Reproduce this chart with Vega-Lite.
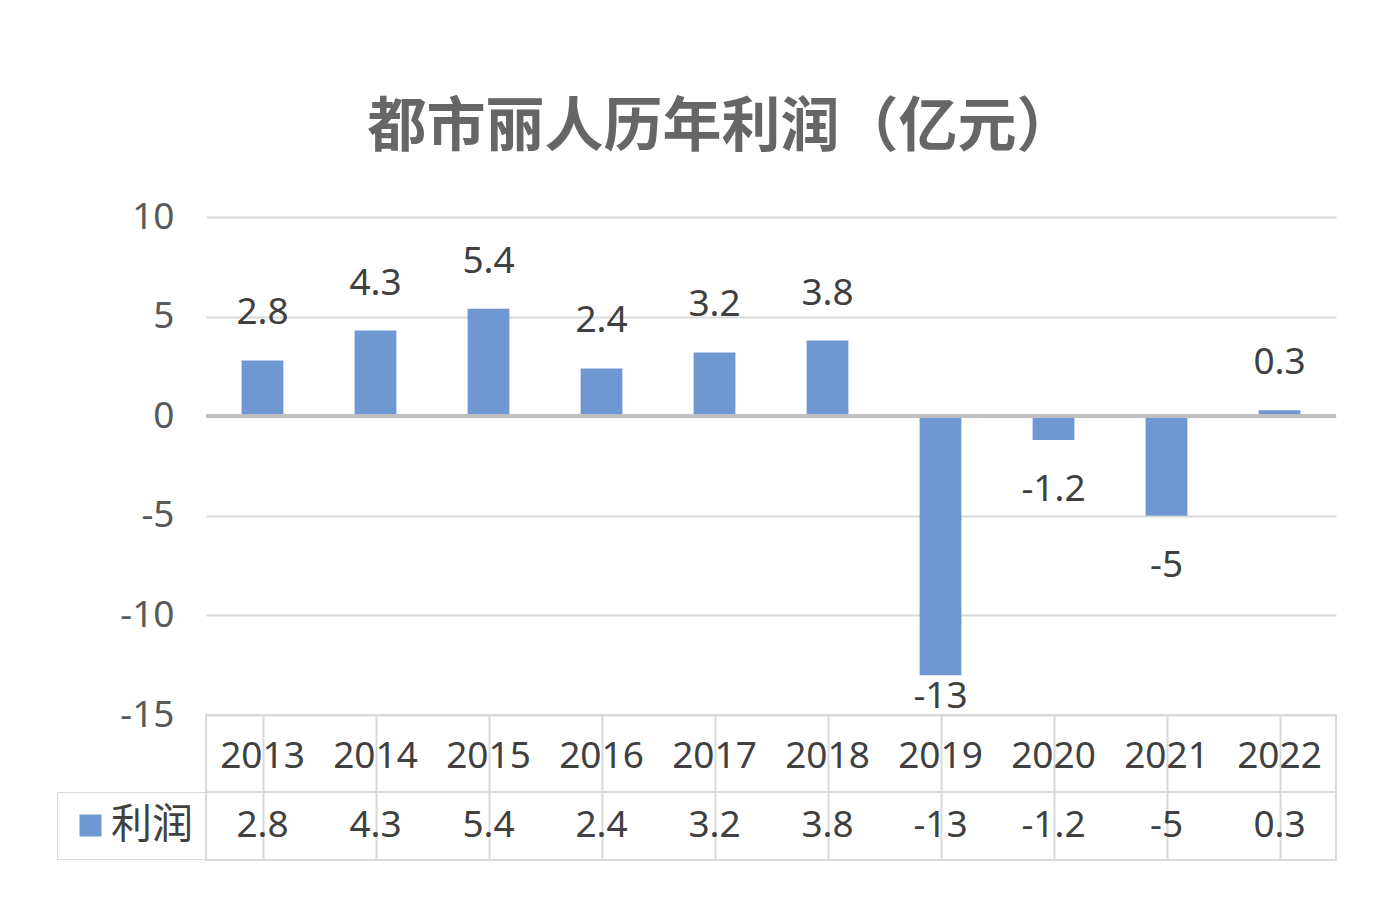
{
  "$schema": "https://vega.github.io/schema/vega-lite/v6.json",
  "background": "white",
  "padding": {"left": 55, "right": 63, "top": 99, "bottom": 48},
  "config": {
    "locale": {"number": {"decimal": ".", "thousands": ",", "grouping": [3], "currency": ["", ""], "minus": "-"}},
    "font": "Noto Sans",
    "concat": {"spacing": 0},
    "view": {"stroke": null}
  },
  "title": {
    "text": "都市丽人历年利润（亿元）",
    "font": "Noto Sans CJK SC",
    "fontSize": 59,
    "fontWeight": "bold",
    "color": "#666666",
    "anchor": "middle",
    "dx": 25,
    "offset": 40
  },
  "resolve": {"legend": {"color": "independent"}, "scale": {"color": "independent"}},
  "datasets": {
    "profit": [
      {"year": "2013", "value": 2.8},
      {"year": "2014", "value": 4.3},
      {"year": "2015", "value": 5.4},
      {"year": "2016", "value": 2.4},
      {"year": "2017", "value": 3.2},
      {"year": "2018", "value": 3.8},
      {"year": "2019", "value": -13},
      {"year": "2020", "value": -1.2},
      {"year": "2021", "value": -5},
      {"year": "2022", "value": 0.3}
    ]
  },
  "bounds": "flush",
  "vconcat": [
    {
      "width": 1130,
      "height": 498,
      "data": {"name": "profit"},
      "encoding": {
        "x": {"field": "year", "type": "nominal", "sort": null, "scale": {"paddingInner": 0, "paddingOuter": 0}, "axis": null}
      },
      "layer": [
        {
          "mark": {"type": "bar", "width": {"band": 0.37}, "color": "#6f98d3"},
          "encoding": {
            "y": {
              "field": "value", "type": "quantitative",
              "scale": {"domain": [-15, 10], "nice": false, "zero": false},
              "axis": {
                "values": [-15, -10, -5, 0, 5, 10],
                "title": null,
                "grid": true, "gridColor": "#d9d9d9", "gridWidth": 2,
                "domain": false, "ticks": false,
                "labelFont": "Noto Sans", "labelFontSize": 37, "labelColor": "#595959",
                "labelPadding": 32
              }
            }
          }
        },
        {
          "mark": {"type": "rule", "color": "#bfbfbf", "strokeWidth": 3},
          "encoding": {"y": {"datum": 0, "type": "quantitative"}, "x": {"value": 0}, "x2": {"value": 1130}}
        },
        {
          "transform": [{"filter": "datum.value >= 0"}],
          "mark": {"type": "text", "dy": -47, "baseline": "middle", "fontSize": 37, "color": "#404040"},
          "encoding": {"y": {"field": "value", "type": "quantitative"}, "text": {"field": "value", "type": "quantitative", "format": "~g"}}
        },
        {
          "transform": [{"filter": "datum.value < 0 && datum.value > -10"}],
          "mark": {"type": "text", "dy": 50, "baseline": "middle", "fontSize": 37, "color": "#404040"},
          "encoding": {"y": {"field": "value", "type": "quantitative"}, "text": {"field": "value", "type": "quantitative", "format": "~g"}}
        },
        {
          "transform": [{"filter": "datum.value <= -10"}],
          "mark": {"type": "text", "dy": 22, "baseline": "middle", "fontSize": 37, "color": "#404040"},
          "encoding": {"y": {"field": "value", "type": "quantitative"}, "text": {"field": "value", "type": "quantitative", "format": "~g"}}
        }
      ]
    },
    {
      "width": 1130,
      "height": 77,
      "view": {"stroke": "#d9d9d9", "strokeWidth": 2},
      "data": {"name": "profit"},
      "mark": {"type": "text", "baseline": "middle", "fontSize": 37, "color": "#404040", "dy": 3},
      "encoding": {
        "x": {"field": "year", "type": "nominal", "sort": null, "scale": {"paddingInner": 0, "paddingOuter": 0},
          "axis": {"bandPosition": 0, "labels": false, "ticks": false, "domain": false, "grid": true, "gridColor": "#d9d9d9", "gridWidth": 2, "title": null}},
        "text": {"field": "year", "type": "nominal"}
      }
    },
    {
      "width": 1130,
      "height": 68,
      "view": {"stroke": "#d9d9d9", "strokeWidth": 2},
      "data": {"name": "profit"},
      "encoding": {
        "x": {"field": "year", "type": "nominal", "sort": null, "scale": {"paddingInner": 0, "paddingOuter": 0},
          "axis": {"bandPosition": 0, "labels": false, "ticks": false, "domain": false, "grid": true, "gridColor": "#d9d9d9", "gridWidth": 2, "title": null}}
      },
      "layer": [
        {
          "mark": {"type": "text", "baseline": "middle", "fontSize": 37, "color": "#404040"},
          "encoding": {"text": {"field": "value", "type": "quantitative", "format": "~g"}}
        },
        {
          "mark": {"type": "square", "size": 0, "opacity": 1},
          "encoding": {
            "color": {
              "datum": "利润", "type": "nominal",
              "scale": {"range": ["#6f98d3"]},
              "legend": {
                "orient": "left", "offset": 0, "title": null,
                "padding": 13, "strokeColor": "#d9d9d9",
                "symbolType": "square", "symbolSize": 484, "symbolStrokeWidth": 0,
                "labelFont": "Noto Sans CJK SC", "labelFontSize": 41, "labelColor": "#404040",
                "labelOffset": 0, "symbolOffset": 0
              }
            }
          }
        }
      ]
    }
  ]
}
